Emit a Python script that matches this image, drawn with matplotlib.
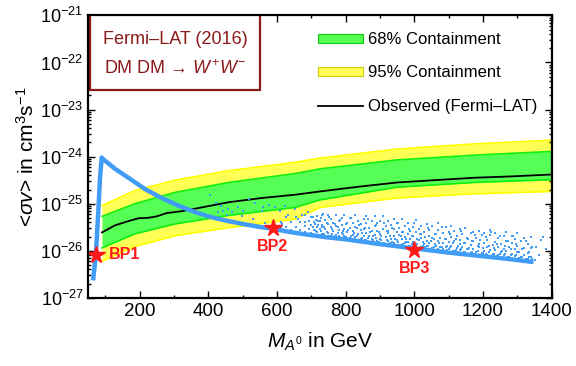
import numpy as np
import matplotlib
matplotlib.use("Agg")
import matplotlib.pyplot as plt
from matplotlib.patches import Patch, Rectangle
from matplotlib.lines import Line2D
from matplotlib.ticker import MultipleLocator, LogLocator, FixedLocator, LogFormatterSciNotation

plt.rcParams['font.family'] = ['Liberation Sans', 'DejaVu Sans']
plt.rcParams['mathtext.fontset'] = 'custom'
plt.rcParams['mathtext.rm'] = 'Liberation Sans'
plt.rcParams['mathtext.it'] = 'Liberation Sans:italic'
plt.rcParams['mathtext.bf'] = 'Liberation Sans:bold'
plt.rcParams['mathtext.sf'] = 'Liberation Sans'

# ---------------- data (log10 of <sigma v> in cm^3/s) ----------------
obs_mass = [90, 128, 167, 196, 225, 249, 278, 322, 380, 458, 555, 652, 725, 837, 949, 1060, 1172, 1284, 1400]
obs_log = [-25.61, -25.46, -25.37, -25.31, -25.30, -25.27, -25.20, -25.16, -25.08, -24.97,
           -24.88, -24.81, -24.74, -24.64, -24.55, -24.50, -24.45, -24.42, -24.38]

band_mass = [90, 186, 303, 458, 652, 725, 949, 1172, 1400]
y95_top = [-25.04, -24.72, -24.50, -24.30, -24.12, -24.03, -23.84, -23.73, -23.65]
g68_top = [-25.27, -25.00, -24.76, -24.55, -24.36, -24.26, -24.07, -23.97, -23.89]
g68_bot = [-25.94, -25.64, -25.43, -25.25, -25.08, -24.92, -24.65, -24.55, -24.49]
y95_bot = [-26.22, -25.91, -25.68, -25.51, -25.33, -25.08, -24.88, -24.79, -24.74]

relic_mass = [64, 72, 79, 84, 89, 96, 128, 167, 215, 264, 312, 361, 410, 458, 507, 555, 584,
              652, 740, 803, 900, 1000, 1100, 1191, 1280, 1347]
relic_log = [-26.63, -26.08, -25.18, -24.47, -24.02, -24.07, -24.26, -24.45, -24.69, -24.88, -25.04,
             -25.18, -25.29, -25.37, -25.44, -25.50, -25.53, -25.62, -25.71, -25.76, -25.86, -25.95,
             -26.04, -26.11, -26.18, -26.24]

scan_mass = [
    405, 421, 437, 443, 456, 470, 487, 502, 518, 536, 555, 560, 575, 594, 609, 623, 633, 652, 662, 672,
    681, 691, 706, 710, 720, 730, 735, 565, 614, 531, 497, 453, 429,
    610, 610, 625, 625, 640, 640, 655, 655, 668, 668, 680, 680, 680, 692, 692,
    700, 700, 700, 708, 708, 716, 716, 716, 724, 724, 732, 732, 732, 740, 740, 748, 748, 748,
    756, 756, 756, 764, 764, 772, 772, 772, 780, 780, 780, 788, 788, 788, 796, 796, 796,
    804, 804, 812, 812, 812, 820, 820, 820, 828, 828, 828, 836, 836, 844, 844, 844,
    852, 852, 852, 860, 860, 860, 860, 868, 868, 876, 876, 876, 884, 884, 884, 892, 892, 892,
    900, 900, 900, 908, 908, 908, 916, 916, 924, 924, 924, 924, 932, 932, 940, 940, 940, 940,
    948, 948, 948, 956, 956, 956, 964, 964, 964, 972, 972, 972, 980, 980, 980, 988, 988, 988,
    996, 996, 996, 1004, 1004, 1004, 1012, 1012, 1020, 1020, 1020, 1020, 1028, 1028,
    1036, 1036, 1036, 1044, 1044, 1044, 1052, 1052, 1052, 1060, 1060, 1068, 1068, 1068, 1068,
    1076, 1076, 1084, 1084, 1084, 1092, 1092, 1092, 1100, 1100, 1100, 1108, 1108, 1108,
    1116, 1116, 1116, 1124, 1124, 1132, 1132, 1132, 1132, 1140, 1140, 1148, 1148, 1148,
    1156, 1156, 1164, 1164, 1164, 1172, 1172, 1172, 1180, 1180, 1188, 1188, 1188, 1196, 1196,
    1204, 1204, 1204, 1212, 1212, 1212, 1220, 1220, 1220, 1228, 1228, 1236, 1236, 1236,
    1244, 1244, 1244, 1252, 1252, 1260, 1260, 1260, 1268, 1268, 1268, 1276, 1276,
    1284, 1284, 1284, 1292, 1292, 1292, 1300, 1300, 1300, 1310, 1310, 1320, 1320, 1320,
    1330, 1330, 1330, 1340, 1340, 1340, 1350, 1355, 1362, 1368, 1375, 1382]
scan_log = [
    -24.81, -24.99, -25.04, -25.16, -25.11, -25.18, -25.08, -25.16, -24.90, -24.99, -25.16, -25.08,
    -25.02, -25.08, -25.16, -25.04, -25.25, -25.11, -25.32, -25.25, -25.39, -25.18, -25.29, -25.43,
    -25.36, -25.50, -25.22, -25.42, -25.43, -25.32, -25.27, -25.23, -25.18,
    -25.505, -25.385, -25.485, -25.285, -25.56, -25.39, -25.485, -25.285, -25.56, -25.38,
    -25.61, -25.47, -25.25, -25.545, -25.365,
    -25.62, -25.45, -25.29, -25.56, -25.38, -25.61, -25.27, -25.49, -25.54, -25.36,
    -25.64, -25.45, -25.25, -25.53, -25.35, -25.615, -25.435, -25.235,
    -25.68, -25.50, -25.32, -25.59, -25.41, -25.655, -25.475, -25.235, -25.56, -25.36, -25.69,
    -25.63, -25.45, -25.31, -25.685, -25.535, -25.235,
    -25.61, -25.42, -25.72, -25.51, -25.31, -25.66, -25.40, -25.58, -25.71, -25.49, -25.25,
    -25.635, -25.375, -25.74, -25.56, -25.44,
    -25.69, -25.33, -25.53, -25.78, -25.62, -25.42, -25.26, -25.69, -25.51, -25.755, -25.575, -25.375,
    -25.66, -25.48, -25.26, -25.79, -25.57, -25.41,
    -25.74, -25.64, -25.36, -25.83, -25.53, -25.27, -25.715, -25.475, -25.80, -25.62, -25.36, -25.58,
    -25.745, -25.445, -25.83, -25.69, -25.53, -25.33,
    -25.78, -25.60, -25.42, -25.87, -25.67, -25.51, -25.755, -25.595, -25.335, -25.84, -25.48, -25.70,
    -25.81, -25.65, -25.41, -25.89, -25.58, -25.76,
    -25.805, -25.685, -25.485, -25.88, -25.61, -25.35, -25.78, -25.54, -25.93, -25.73, -25.47, -25.65,
    -25.86, -25.60,
    -25.905, -25.785, -25.425, -25.83, -25.69, -25.55, -25.935, -25.735, -25.475, -25.86, -25.64,
    -25.97, -25.79, -25.55, -25.41,
    -25.92, -25.72, -25.845, -25.625, -25.965, -25.91, -25.75, -25.49, -25.96, -25.82, -25.60,
    -25.895, -25.705, -25.465,
    -26.00, -25.79, -25.57, -25.94, -25.68, -25.985, -25.865, -25.765, -25.545, -25.91, -25.65,
    -26.02, -25.84, -25.52,
    -25.965, -25.745, -26.05, -25.87, -25.63, -25.955, -25.795, -25.595, -26.02, -25.72,
    -25.93, -25.85, -25.57, -26.055, -25.675,
    -26.00, -25.84, -25.62, -26.085, -25.925, -25.765, -25.99, -25.67, -25.55, -26.06, -25.88,
    -25.985, -25.805, -25.625,
    -26.10, -25.91, -25.73, -26.035, -25.855, -26.08, -25.96, -25.68, -26.01, -25.79, -25.61,
    -26.135, -25.915,
    -26.06, -25.84, -25.68, -26.105, -25.965, -25.745, -26.03, -25.89, -25.63, -26.14, -25.80,
    -26.09, -25.95, -25.73,
    -26.18, -26.04, -25.86, -26.13, -25.95, -25.71, -26.20, -25.92, -26.10, -25.78, -25.70, -25.96]

scan2_mass = [704, 712, 720, 728, 736, 744, 752, 760, 768, 776, 784, 792, 800, 808, 816, 824, 832, 840,
              848, 856, 864, 872, 880, 888, 896, 904, 912, 920, 928, 936, 944, 952, 960, 968, 976, 984,
              992, 1000, 1008, 1016, 1024, 1032, 1040, 1048, 1056, 1064, 1072, 1080, 1088, 1096, 1104,
              1112, 1120, 1128, 1136, 1144, 1152, 1160, 1168, 1176, 1184, 1192, 1200, 1208, 1216, 1224,
              1232, 1240, 1248, 1256, 1264, 1272, 1280, 1288, 1296, 1304, 1314, 1324, 1334, 1344]
scan2_low = [-25.64, -25.58, -25.67, -25.57, -25.65, -25.60, -25.69, -25.64, -25.68, -25.62, -25.72,
             -25.65, -25.70, -25.745, -25.68, -25.74, -25.68, -25.77, -25.73, -25.765, -25.72, -25.81,
             -25.77, -25.73, -25.82, -25.77, -25.84, -25.77, -25.835, -25.81, -25.88, -25.81, -25.87,
             -25.85, -25.81, -25.905, -25.85, -25.90, -25.85, -25.944, -25.89, -25.93, -25.89, -25.96,
             -25.93, -25.89, -25.975, -25.93, -26.01, -25.976, -25.93, -26.01, -25.975, -26.03, -25.97,
             -26.025, -25.96, -26.067, -26.02, -26.06, -26.005, -26.08, -26.04, -26.07, -26.02, -26.117,
             -26.07, -26.11, -26.065, -26.13, -26.067, -26.124, -26.10, -26.166, -26.08, -26.157,
             -26.126, -26.185, -26.134, -26.183]
scan2_high = [-25.50, -25.35, -25.45, -25.30, -25.50, -25.40, -25.28, -25.54, -25.44, -25.50, -25.34,
              -25.58, -25.44, -25.555, -25.30, -25.62, -25.52, -25.45, -25.62, -25.515, -25.32, -25.60,
              -25.69, -25.46, -25.60, -25.68, -25.42, -25.59, -25.685, -25.52, -25.76, -25.41, -25.68,
              -25.61, -25.75, -25.535, -25.69, -25.40, -25.75, -25.634, -25.81, -25.70, -25.52, -25.80,
              -25.75, -25.65, -25.845, -25.49, -25.76, -25.896, -25.65, -25.83, -25.745, -25.89, -25.58,
              -25.835, -25.72, -25.937, -25.80, -25.66, -25.905, -25.78, -25.95, -25.71, -25.89, -25.607,
              -25.95, -25.85, -25.695, -26.01, -25.897, -25.784, -25.97, -25.696, -25.86, -26.017,
              -25.956, -25.795, -26.024, -25.923]

bp_mass = [72, 587, 1000]
bp_log = [-26.09, -25.51, -25.98]
bp_names = ["BP1", "BP2", "BP3"]

y_ticks = [1e-27, 1e-26, 1e-25, 1e-24, 1e-23, 1e-22, 1e-21]
legend_labels = ["68% Containment", "95% Containment", "Observed (Fermi–LAT)"]

# ---------------- figure ----------------
fig = plt.figure(figsize=(5.76, 3.66), dpi=100)
ax = fig.add_axes([0.1533, 0.1863, 0.8045, 0.7716])

def v(a):
    return 10.0 ** np.asarray(a, dtype=float)

ax.fill_between(band_mass, v(y95_bot), v(y95_top), color='#ffff55', lw=0, zorder=1)
ax.plot(band_mass, v(y95_top), color='#ffff00', lw=1.2, zorder=1.1)
ax.plot(band_mass, v(y95_bot), color='#ffff00', lw=1.2, zorder=1.1)
ax.fill_between(band_mass, v(g68_bot), v(g68_top), color='#55ff55', lw=0, zorder=2)
ax.plot(band_mass, v(g68_top), color='#11ee11', lw=1.2, zorder=2.1)
ax.plot(band_mass, v(g68_bot), color='#11ee11', lw=1.2, zorder=2.1)
ax.plot(obs_mass, v(obs_log), color='black', lw=1.3, zorder=3)

blue = '#409cf5'
ax.scatter(scan_mass, v(scan_log), s=4.2, marker='s', color=blue, lw=0, zorder=4)
ax.scatter(scan2_mass, v(scan2_low), s=4.2, marker='s', color=blue, lw=0, zorder=4)
ax.scatter(scan2_mass, v(scan2_high), s=4.2, marker='s', color=blue, lw=0, zorder=4)
ax.plot(relic_mass, v(relic_log), color=blue, lw=3.2, solid_capstyle='butt', zorder=4.5)

ax.plot(bp_mass, v(bp_log), ls='none', marker='*', ms=13, color='#ff1a1a', mec='#ff1a1a', zorder=6)
offsets = [(13, 0), (0, -19), (0, -19)]
aligns = [('left', 'center'), ('center', 'center'), ('center', 'center')]
for m, lg, name, off, al in zip(bp_mass, bp_log, bp_names, offsets, aligns):
    ax.annotate(name, (m, 10 ** lg), xytext=(off[0] * 0.72, off[1] * 0.72), textcoords='offset points',
                ha=al[0], va=al[1], color='#ff1a1a', fontsize=11.5, fontweight='bold', zorder=6)

ax.set_yscale('log')
ax.set_xlim(50, 1400)
ax.set_ylim(1e-27, 1e-21)
ax.xaxis.set_major_locator(MultipleLocator(200))
ax.xaxis.set_minor_locator(MultipleLocator(100))
ax.yaxis.set_major_locator(FixedLocator(y_ticks))
ax.yaxis.set_major_formatter(LogFormatterSciNotation())
ax.yaxis.set_minor_locator(LogLocator(base=10, subs=np.arange(2, 10), numticks=20))
ax.tick_params(which='both', direction='in', top=True, right=True, labelsize=13.5, width=1.0)
ax.tick_params(axis='y', labelsize=13)
ax.tick_params(which='major', length=5)
ax.tick_params(which='minor', length=2.5)
for sp in ax.spines.values():
    sp.set_linewidth(1.6)
    sp.set_zorder(10)

ax.set_xlabel(r'$M_{A^0}$ in GeV', fontsize=15, labelpad=8)
ax.set_ylabel(r'<$\sigma v$> in cm$^3$s$^{-1}$', fontsize=15, labelpad=2)

# title box
dark_red = '#8b1a1a'
ax.add_patch(Rectangle((0.004, 0.7355), 0.3665, 0.27, transform=ax.transAxes,
                       facecolor='white', edgecolor=dark_red, lw=1.6, zorder=7))
ax.text(0.187, 0.913, 'Fermi–LAT (2016)', transform=ax.transAxes, ha='center', va='center',
        color=dark_red, fontsize=13, zorder=8)
ax.text(0.187, 0.811, r'DM DM → $W^{+}W^{-}$', transform=ax.transAxes, ha='center', va='center',
        color=dark_red, fontsize=13, zorder=8)

handles = [Patch(facecolor='#55ff55', edgecolor='#11cc11', lw=0.8),
           Patch(facecolor='#ffff55', edgecolor='#cccc00', lw=0.8),
           Line2D([], [], color='black', lw=1.3)]
leg = ax.legend(handles, legend_labels, loc='upper left', bbox_to_anchor=(0.495, 0.941),
                frameon=False, fontsize=12, handlelength=2.7, handleheight=0.45,
                handletextpad=0.3, labelspacing=1.1, borderpad=0, borderaxespad=0)
leg.set_zorder(9)

fig.savefig('out.png', dpi=100)
